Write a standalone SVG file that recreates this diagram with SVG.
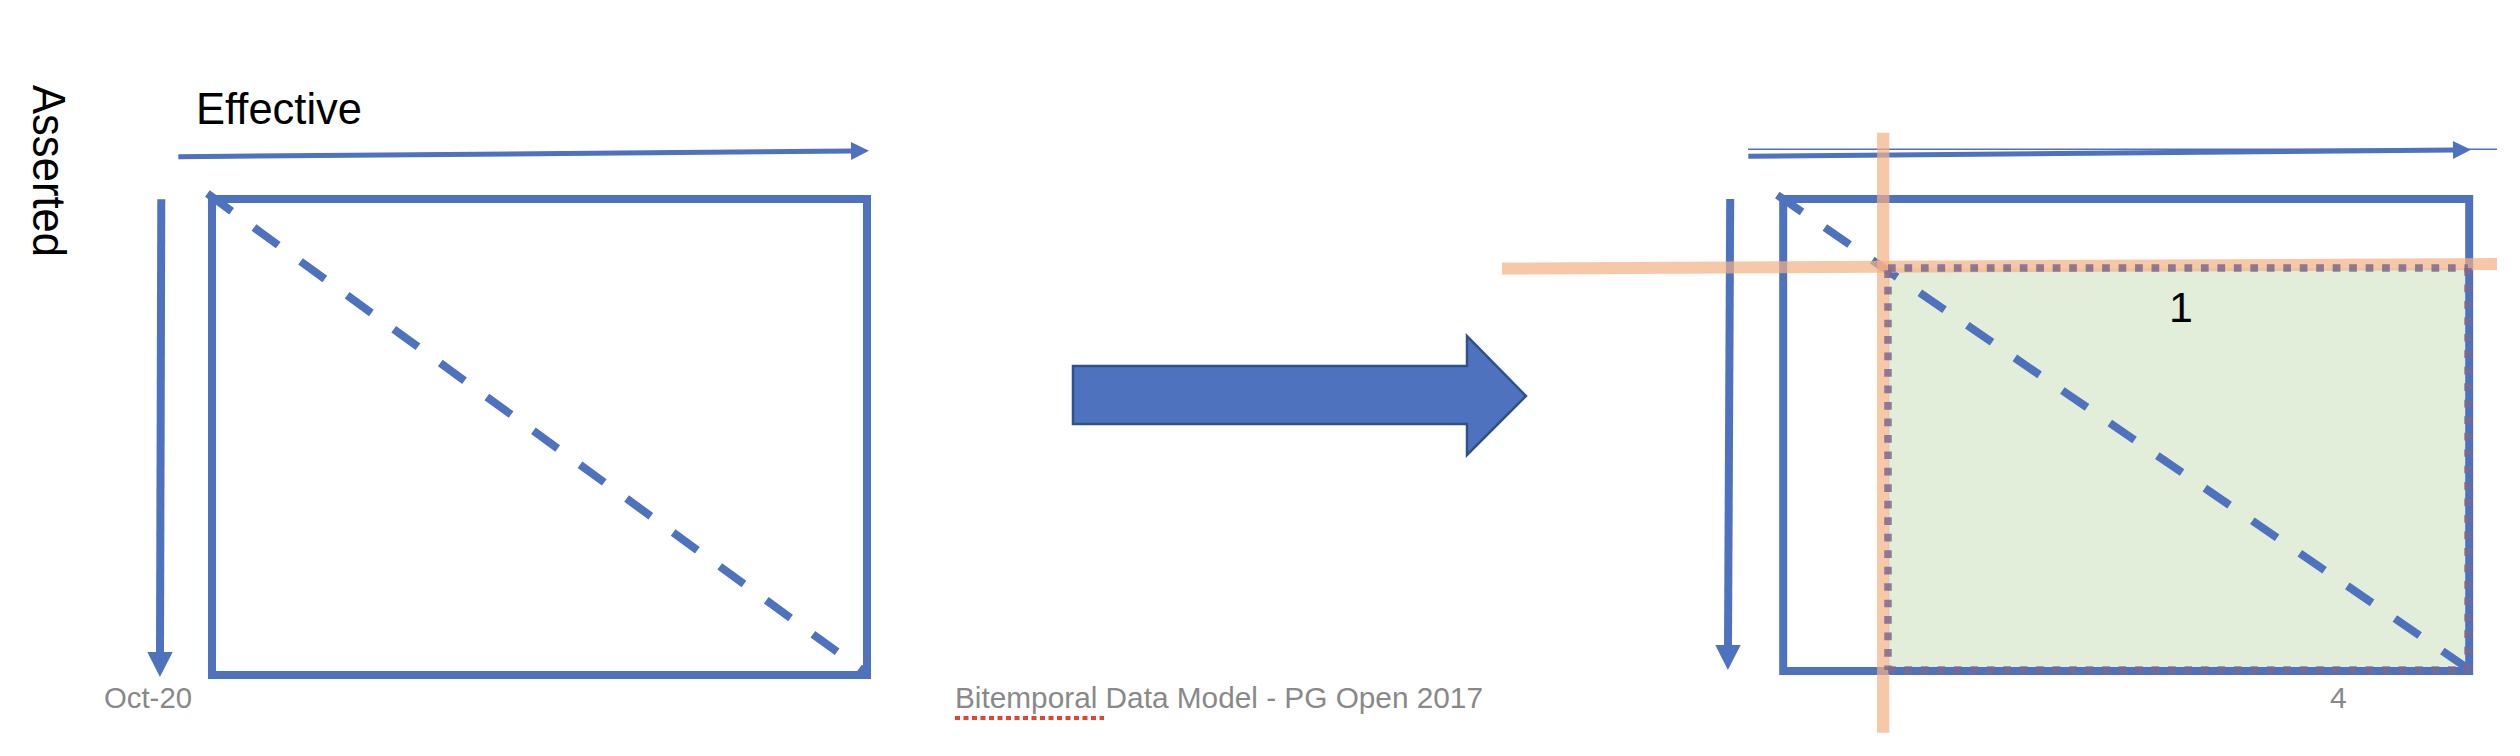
<svg xmlns="http://www.w3.org/2000/svg" width="2520" height="756" viewBox="0 0 2520 756">
  <style>
    .blue { stroke: #4E72BE; fill: none; }
    .box { stroke: #4E72BE; stroke-width: 8; fill: none; }
    .diag { stroke: #4E72BE; stroke-width: 8; fill: none; stroke-dasharray: 30 27.6; }
    .axis { stroke: #4E72BE; fill: none; }
    .peach { stroke: #F4B183; stroke-opacity: 0.7; fill: none; }
    .dots { stroke: #7A6890; stroke-opacity: 0.85; stroke-width: 7.5; fill: none; stroke-dasharray: 7.7 8.77; }
    .lbl { font-family: "Liberation Sans", Arial, sans-serif; fill: #000000; }
    .foot { font-family: "Liberation Sans", Arial, sans-serif; fill: #898989; font-size: 30px; }
  </style>
  <defs>
    <marker id="headH" markerUnits="userSpaceOnUse" markerWidth="19" markerHeight="19" refX="0" refY="9" orient="auto" overflow="visible">
      <path d="M0,0 L18,9 L0,18 Z" fill="#4E72BE"/>
    </marker>
    <marker id="headV" markerUnits="userSpaceOnUse" markerWidth="26" markerHeight="26" refX="0" refY="12.7" orient="auto" overflow="visible">
      <path d="M0,0 L25,12.7 L0,25.4 Z" fill="#4E72BE"/>
    </marker>
  </defs>

  <rect width="2520" height="756" fill="#FFFFFF"/>

  <!-- Left panel -->
  <g id="label-asserted">
    <text class="lbl" font-size="46" transform="translate(33,85) rotate(90)" textLength="172" lengthAdjust="spacingAndGlyphs">Asserted</text>
  </g>
  <g id="label-effective">
    <text class="lbl" font-size="45" x="196" y="124" textLength="166" lengthAdjust="spacingAndGlyphs">Effective</text>
  </g>
  <g id="left-box">
    <rect class="box" x="212" y="199" width="655" height="476"/>
  </g>
  <g id="left-diagonal">
    <line class="diag" x1="207.4" y1="193.6" x2="869" y2="675"/>
  </g>

  <!-- Transform arrow -->
  <g id="transform-arrow">
    <polygon points="1073,366 1467,366 1467,336 1526,396 1467,455 1467,424 1073,424" fill="#4E72BE" stroke="#2F528F" stroke-width="2.5" stroke-linejoin="miter"/>
  </g>

  <!-- Right panel -->
  <g id="right-region">
    <rect x="1888" y="268" width="580" height="402" fill="#E2EDDA"/>
  </g>
  <g id="right-box">
    <rect class="box" x="1783.2" y="199" width="686" height="472"/>
  </g>

  <g id="connectors">
    <!-- left axes -->
    <line class="axis" stroke-width="5" x1="178.3" y1="156.7" x2="851" y2="151" marker-end="url(#headH)"/>
    <line class="axis" stroke-width="8" x1="161.3" y1="199.3" x2="160" y2="652" marker-end="url(#headV)"/>
    <!-- right axes -->
    <line class="axis" stroke-width="1.5" x1="1748" y1="149.3" x2="2497" y2="149.3"/>
    <line class="axis" stroke-width="5" x1="1748.3" y1="156.3" x2="2453" y2="150" marker-end="url(#headH)"/>
    <line class="axis" stroke-width="8" x1="1730.2" y1="199" x2="1728" y2="645" marker-end="url(#headV)"/>
  </g>

  <g id="right-diagonal">
    <line class="diag" x1="1777.3" y1="195" x2="2470" y2="670"/>
  </g>

  <g id="cut-lines">
    <line class="peach" stroke-width="12.3" x1="1883.2" y1="132.7" x2="1883.2" y2="732.7"/>
    <line class="peach" stroke-width="12" x1="1502" y1="268.5" x2="2497" y2="264"/>
  </g>

  <g id="right-region-border">
    <path class="dots" d="M1888,268 H2468"/>
    <path class="dots" d="M2468,268 V670"/>
    <path class="dots" d="M1888,670 H2468"/>
    <path class="dots" d="M1888,268 V670" stroke-dashoffset="14.24"/>
  </g>

  <g id="label-1">
    <text class="lbl" font-size="43" x="2181" y="322" text-anchor="middle">1</text>
  </g>

  <!-- Footer -->
  <g id="footer">
    <text class="foot" x="104" y="708" textLength="88" lengthAdjust="spacingAndGlyphs">Oct-20</text>
    <text class="foot" x="955" y="708" textLength="528" lengthAdjust="spacingAndGlyphs">Bitemporal Data Model - PG Open 2017</text>
    <line x1="955" y1="718" x2="1104" y2="718" stroke="#E8412F" stroke-width="4" stroke-dasharray="5 3.5"/>
    <text class="foot" x="2330" y="708">4</text>
  </g>
</svg>
